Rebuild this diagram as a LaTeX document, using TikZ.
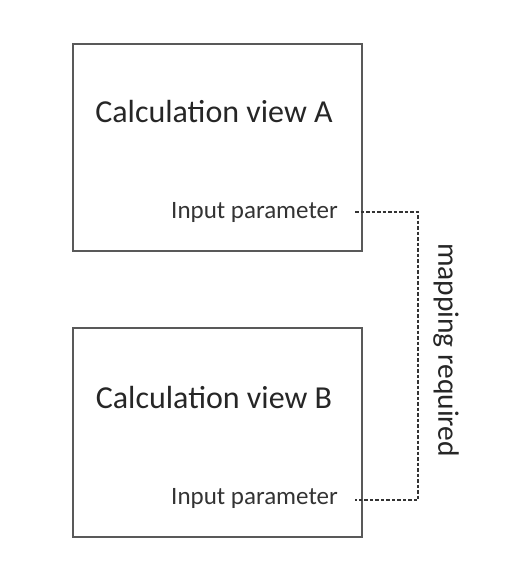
\documentclass[tikz,border=0pt]{standalone}
\usepackage{fontspec}
\setmainfont{Carlito}
\begin{document}
\begin{tikzpicture}[x=1pt,y=-1pt,
  viewbox/.style={draw=black!65, line width=1.3pt, minimum width=289pt, minimum height=207pt, inner sep=0pt},
  title/.style={text=black!85, font=\fontsize{32}{36}\selectfont, inner sep=0pt},
  param/.style={text=black!80, font=\fontsize{25}{28}\selectfont, inner sep=0pt},
  maplabel/.style={text=black!85, font=\fontsize{29.5}{33}\selectfont, inner sep=0pt},
  map/.style={draw=black!80, line width=1.6pt, dash pattern=on 3.5pt off 2pt}]
\useasboundingbox (0,0) rectangle (509,571);
\node[viewbox] (A) at (217.5,147.5) {};
\node[viewbox, minimum height=209pt] (B) at (217.5,432.5) {};
\node[title] (tA) at (214,112) {Calculation view A};
\node[title] (tB) at (214,398) {Calculation view B};
\node[param, anchor=east] (pA) at (338,212) {Input parameter};
\node[param, anchor=east] (pB) at (338,498) {Input parameter};
\coordinate (cA) at (355,212);
\coordinate (cB) at (355,500);
\draw[map] (cA) -- (418,212) -- (418,500) -- (cB);
\node[maplabel, rotate=-90] (m) at (446,350) {mapping required};
\end{tikzpicture}
\end{document}
